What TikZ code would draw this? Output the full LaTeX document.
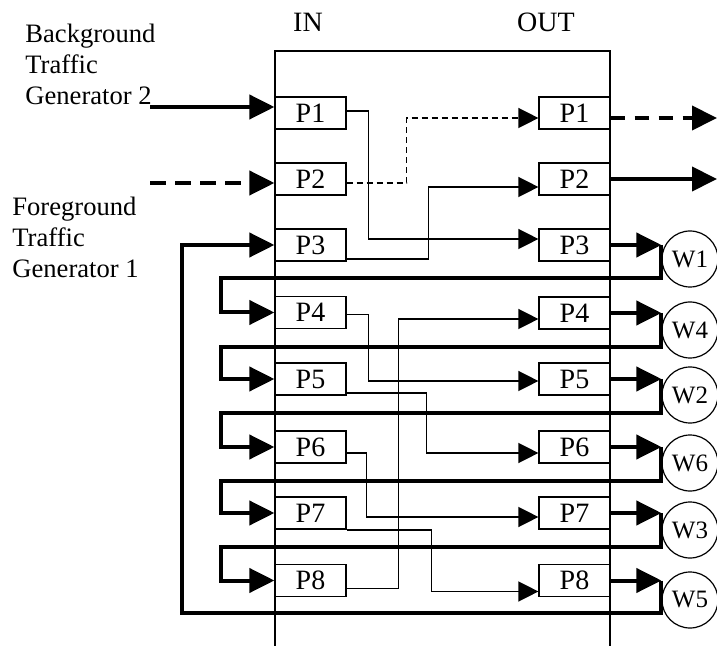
\documentclass[tikz,border=0pt]{standalone}
\usepackage{fontspec}
\setmainfont{Liberation Serif}
\usetikzlibrary{arrows.meta}

\begin{document}
\begin{tikzpicture}[x=0.5pt,y=-0.5pt,font=\fontsize{14}{16}\selectfont,
  port/.style={draw,line width=.6pt,minimum width=35.5pt,minimum height=16pt,inner sep=0pt},
  wnode/.style={draw,circle,line width=.6pt,minimum size=28pt,inner sep=0pt,font=\fontsize{12.5}{14}\selectfont},
  sidetext/.style={align=left,anchor=base west,inner sep=0pt,font=\fontsize{13.3}{15.7}\selectfont},
  link/.style={line width=.7pt,-{Triangle[length=10pt,width=10pt]}},
  fatlink/.style={line width=2pt,-{Triangle[length=12.5pt,width=12pt]}}]
\useasboundingbox (0,0) rectangle (717,646);
\node (inlbl) at (308,22) {IN};
\node (outlbl) at (546,22) {OUT};
\draw[line width=.6pt] (275,646) -- (275,51) -- (610,51) -- (610,646);
\node[sidetext] (bgtxt) at (25,105) {Background\\Traffic\\Generator 2};
\node[sidetext] (fgtxt) at (12,278) {Foreground\\Traffic\\Generator 1};
\node[port] (inP1) at (310.5,113) {P1};
\node[port] (inP2) at (310.5,179) {P2};
\node[port] (inP3) at (310.5,245) {P3};
\node[port] (inP4) at (310.5,312.5) {P4};
\node[port] (inP5) at (310.5,379) {P5};
\node[port] (inP6) at (310.5,447) {P6};
\node[port] (inP7) at (310.5,513) {P7};
\node[port] (inP8) at (310.5,580.5) {P8};
\node[port] (outP1) at (574.5,113) {P1};
\node[port] (outP2) at (574.5,179) {P2};
\node[port] (outP3) at (574.5,245) {P3};
\node[port] (outP4) at (574.5,313) {P4};
\node[port] (outP5) at (574.5,379) {P5};
\node[port] (outP6) at (574.5,447) {P6};
\node[port] (outP7) at (574.5,513) {P7};
\node[port] (outP8) at (574.5,580.5) {P8};
\node[wnode] (w1) at (690,259) {W1};
\node[wnode] (w4) at (690,330) {W4};
\node[wnode] (w2) at (690,395) {W2};
\node[wnode] (w6) at (690,463) {W6};
\node[wnode] (w3) at (690,530) {W3};
\node[wnode] (w5) at (690,600) {W5};
\coordinate (gen2) at (150,107);
\coordinate (bgsrc) at (150,183);
\coordinate (sink1) at (717,118);
\coordinate (sink2) at (717,179);
\draw[fatlink] (gen2) -- (gen2 -| inP1.west);
\draw[fatlink,dash pattern=on 8pt off 4.5pt] (bgsrc) -- (bgsrc -| inP2.west);
\draw[fatlink,dash pattern=on 7pt off 5pt] (sink1 -| outP1.east) -- (sink1);
\draw[fatlink] (outP2) -- (sink2);
\draw[link] ([yshift=1pt]inP1.east) -- ++(22,0) |- ([yshift=3pt]outP3.west);
\draw[link,dash pattern=on 3pt off 2pt] ([yshift=-2pt]inP2.east) -- ++(60,0) |- ([yshift=-2.5pt]outP1.west);
\draw[link] ([yshift=-7pt]inP3.east) -- ++(82,0) |- ([yshift=-4pt]outP2.west);
\draw[link] ([yshift=-1pt]inP4.east) -- ++(22,0) |- ([yshift=-1pt]outP5.west);
\draw[link] ([yshift=-7pt]inP5.east) -- ++(80,0) |- ([yshift=-3pt]outP6.west);
\draw[link] ([yshift=-3pt]inP6.east) -- ++(20,0) |- ([yshift=-2pt]outP7.west);
\draw[link] ([yshift=-8.5pt]inP7.east) -- ++(85,0) |- ([yshift=-5.5pt]outP8.west);
\draw[link] ([yshift=-4pt]inP8.east) -- ++(52,0) |- ([yshift=-3pt]outP4.west);
\draw[fatlink] (outP3) -- (outP3 -| w1.west);
\draw[fatlink] (outP4) -- (outP4 -| w4.west);
\draw[fatlink] (outP5) -- (outP5 -| w2.west);
\draw[fatlink] (outP6) -- (outP6 -| w6.west);
\draw[fatlink] (outP7) -- (outP7 -| w3.west);
\draw[fatlink] (outP8) -- (outP8 -| w5.west);
\draw[fatlink] (outP3 -| w1.west) |- (221,278) |- (inP4);
\draw[fatlink] (outP4 -| w4.west) |- (221,347) |- (inP5);
\draw[fatlink] (outP5 -| w2.west) |- (221,413) |- (inP6);
\draw[fatlink] (outP6 -| w6.west) |- (221,481) |- (inP7);
\draw[fatlink] (outP7 -| w3.west) |- (221,547) |- (inP8);
\draw[fatlink] (outP8 -| w5.west) |- (182,613) |- (inP3);
\end{tikzpicture}
\end{document}
